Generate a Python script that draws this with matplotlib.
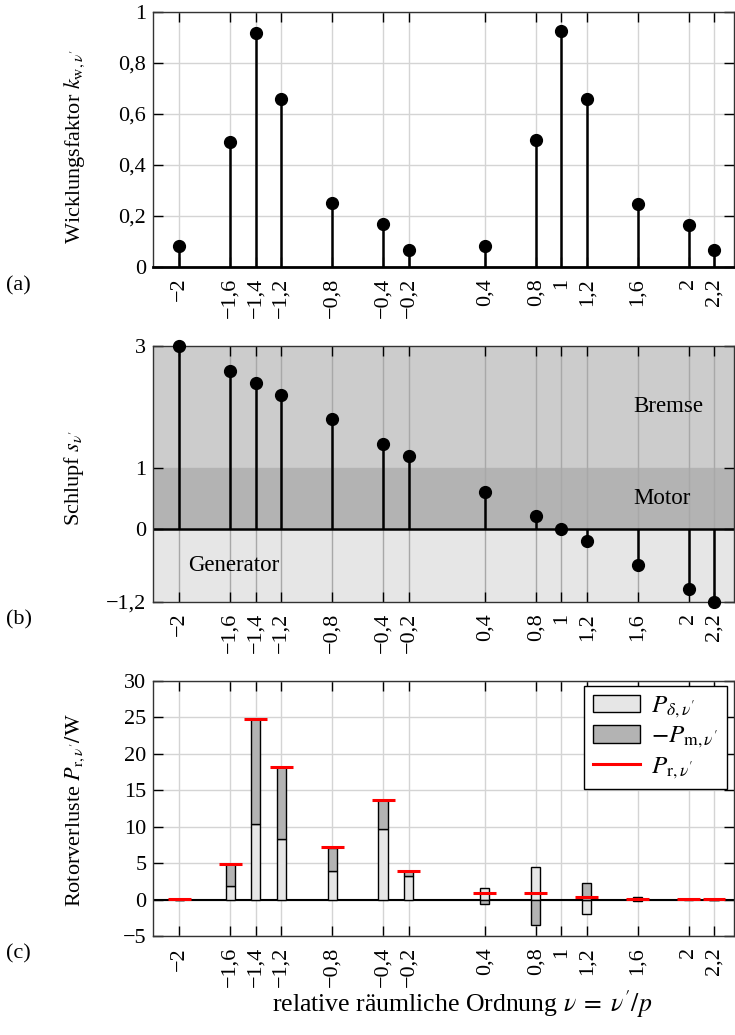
import numpy as np
import matplotlib
matplotlib.use('Agg')
import matplotlib.pyplot as plt
from matplotlib.patches import Patch
from matplotlib.lines import Line2D

plt.rcParams['font.family'] = ['Liberation Serif', 'DejaVu Serif']
plt.rcParams['mathtext.fontset'] = 'stix'
plt.rcParams['font.size'] = 16

# relative Ordnung nu
nu = [-2, -1.6, -1.4, -1.2, -0.8, -0.4, -0.2, 0.4, 0.8, 1, 1.2, 1.6, 2, 2.2]
nu_labels = ['−2', '−1,6', '−1,4', '−1,2', '−0,8', '−0,4', '−0,2',
             '0,4', '0,8', '1', '1,2', '1,6', '2', '2,2']

# (a) Wicklungsfaktor
k_w = [0.081, 0.49, 0.918, 0.659, 0.248, 0.166, 0.066,
       0.083, 0.495, 0.925, 0.659, 0.246, 0.163, 0.065]

# (b) Schlupf
slip = [3.0, 2.59, 2.39, 2.2, 1.8, 1.39, 1.19,
        0.6, 0.2, 0.0, -0.2, -0.59, -0.99, -1.2]

# (c) Rotorverluste in W (bei nu = 1 kein Wert)
p_delta = [0.05, 1.82, 10.33, 8.23, 3.97, 9.64, 3.24,
           1.56, 4.44, np.nan, -1.92, 0.3, 0.04, 0.02]
p_mech = [0.0, 3.03, 14.47, 9.97, 3.16, 3.94, 0.64,
          -0.63, -3.51, np.nan, 2.33, -0.2, 0.01, 0.0]   # -P_m
p_rotor = [0.05, 4.85, 24.8, 18.2, 7.2, 13.6, 3.9,
           0.96, 0.88, np.nan, 0.41, 0.14, 0.05, 0.02]

W, H = 735, 1035
fig = plt.figure(figsize=(W / 100, H / 100), dpi=100)


def make_axes(top, bottom):
    left, right = 153.3, 734
    return fig.add_axes([left / W, 1 - bottom / H, (right - left) / W, (bottom - top) / H])


def style(ax, gridcolor, ygrid=True):
    ax.set_xlim(-2.205, 2.357)
    ax.set_xticks(nu)
    ax.set_xticklabels(nu_labels, rotation=90)
    ax.tick_params(direction='in', length=7, width=1, top=True, right=True,
                   labelsize=16)
    ax.tick_params(axis='x', pad=8)
    ax.tick_params(axis='y', pad=5)
    ax.grid(axis='x', color=gridcolor, lw=1.0)
    if ygrid:
        ax.grid(axis='y', color=gridcolor, lw=1.0)
    ax.set_axisbelow(True)
    for s in ax.spines.values():
        s.set_color('#333333')
        s.set_linewidth(1.0)


# (a)
ax1 = make_axes(11.7, 266.7)
style(ax1, '#d4d4d4')
ax1.vlines(nu, 0, k_w, color='black', lw=1.8, zorder=3)
ax1.plot(nu, k_w, 'o', color='black', ms=8.5, zorder=4)
ax1.set_ylim(0, 1)
ax1.set_yticks([0, 0.2, 0.4, 0.6, 0.8, 1])
ax1.set_yticklabels(['0', '0,2', '0,4', '0,6', '0,8', '1'])
ax1.spines['bottom'].set_color('black')
ax1.spines['bottom'].set_linewidth(2)

# (b)
ax2 = make_axes(346, 601.7)
style(ax2, '#a8a8a8', ygrid=False)
ax2.axhspan(1, 3, color='#cccccc', zorder=0)
ax2.axhspan(0, 1, color='#b3b3b3', zorder=0)
ax2.axhspan(-1.2, 0, color='#e6e6e6', zorder=0)
ax2.axhline(0, color='black', lw=1.8, zorder=2)
ax2.vlines(nu, 0, slip, color='black', lw=1.8, zorder=3)
ax2.plot(nu, slip, 'o', color='black', ms=8.5, zorder=4, clip_on=False)
ax2.set_ylim(-1.2, 3)
ax2.set_yticks([-1.2, 0, 1, 3])
ax2.set_yticklabels(['−1,2', '0', '1', '3'])
ax2.text(1.565, 2.0, 'Bremse', fontsize=16.5, va='center', ha='left')
ax2.text(1.565, 0.5, 'Motor', fontsize=16.5, va='center', ha='left')
ax2.text(-1.93, -0.6, 'Generator', fontsize=16.5, va='center', ha='left')

# (c)
ax3 = make_axes(680.7, 936)
style(ax3, '#d4d4d4')
x = np.array(nu)
pd_ = np.array(p_delta)
pm_ = np.array(p_mech)
bottom_m = np.where(np.sign(pm_) == np.sign(pd_), pd_, 0)
ax3.axhline(0, color='black', lw=1.5, zorder=2)
ax3.bar(x, pd_, width=0.072, color='#e6e6e6', edgecolor='black', lw=1.0, zorder=3)
ax3.bar(x, pm_, width=0.072, bottom=bottom_m, color='#b3b3b3', edgecolor='black',
        lw=1.0, zorder=3)
ax3.hlines(p_rotor, x - 0.09, x + 0.09, color='red', lw=2.2, zorder=4)
ax3.set_ylim(-5, 30)
ax3.set_yticks(range(-5, 31, 5))
ax3.set_yticklabels(['−5', '0', '5', '10', '15', '20', '25', '30'])

handles = [Patch(facecolor='#e6e6e6', edgecolor='black', lw=1.0),
           Patch(facecolor='#b3b3b3', edgecolor='black', lw=1.0),
           Line2D([], [], color='red', lw=2.2)]
labels = [r"$P_{\delta,\nu'}$", r"$-P_{\mathrm{m},\nu'}$", r"$P_{\mathrm{r},\nu'}$"]
leg = ax3.legend(handles, labels, loc='upper right', bbox_to_anchor=(0.988, 0.98),
                 borderaxespad=0, fontsize=18, frameon=True, fancybox=False,
                 edgecolor='black', framealpha=1, handlelength=1.9, handleheight=0.7,
                 borderpad=0.35, labelspacing=0.2, handletextpad=0.45)
leg.get_frame().set_linewidth(1.0)

# axis labels
fig.text(79.5 / W, 1 - 146 / H, r"Wicklungsfaktor $k_{\mathrm{w},\nu'}$", rotation=90,
         ha='center', va='baseline', rotation_mode='anchor', fontsize=16)
fig.text(79.5 / W, 1 - 478 / H, r"Schlupf $s_{\nu'}$", rotation=90,
         ha='center', va='baseline', rotation_mode='anchor', fontsize=16)
fig.text(79.5 / W, 1 - 810 / H, r"Rotorverluste $P_{\mathrm{r},\nu'}/\mathrm{W}$", rotation=90,
         ha='center', va='baseline', rotation_mode='anchor', fontsize=16)

fig.text(6 / W, 1 - 286 / H, '(a)', va='center', ha='left', fontsize=16)
fig.text(6 / W, 1 - 620 / H, '(b)', va='center', ha='left', fontsize=16)
fig.text(6 / W, 1 - 954 / H, '(c)', va='center', ha='left', fontsize=16)

fig.text(462 / W, 1 - 1004 / H, r"relative räumliche Ordnung $\nu\;=\;\nu'/p$",
         ha='center', va='center', fontsize=18.5)

fig.savefig('out.png', dpi=100)
